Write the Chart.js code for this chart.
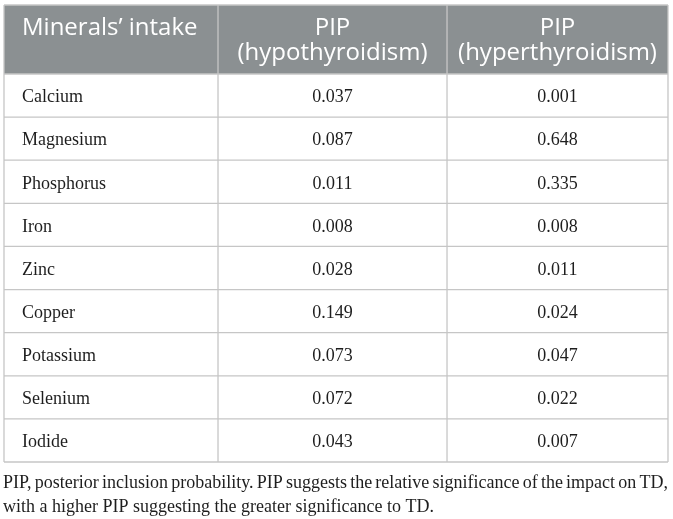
<!DOCTYPE html>
<html>
<head>
<meta charset="utf-8">
<script src="https://cdn.jsdelivr.net/npm/chart.js@4"></script>
<style>html,body{margin:0;padding:0;background:#fff}canvas{display:block}</style>
</head>
<body>
<canvas id="tbl" width="673" height="519"></canvas>
<script>
const minerals = ['Calcium', 'Magnesium', 'Phosphorus', 'Iron', 'Zinc', 'Copper', 'Potassium', 'Selenium', 'Iodide'];
const pipHypo = [0.037, 0.087, 0.011, 0.008, 0.028, 0.149, 0.073, 0.072, 0.043];
const pipHyper = [0.001, 0.648, 0.335, 0.008, 0.011, 0.024, 0.047, 0.022, 0.007];
const headers = [['Minerals\u2019 intake'], ['PIP', '(hypothyroidism)'], ['PIP', '(hyperthyroidism)']];
const note = [
    'PIP, posterior inclusion probability. PIP suggests the relative significance of the impact on TD,',
    'with a higher PIP suggesting the greater significance to TD.'
];

// column edges in x units, the table runs 0..100
const colEdges = [0, 32.23, 66.72, 100];
const headerTop = 5;

const tablePlugin = {
    id: 'table',
    beforeDatasetsDraw(chart) {
        const { ctx, chartArea: a, scales: { x, y } } = chart;
        const band = y.getPixelForValue(1) - y.getPixelForValue(0);
        const xs = colEdges.map(v => x.getPixelForValue(v));

        ctx.save();
        // header
        ctx.fillStyle = '#8b9092';
        ctx.fillRect(a.left, headerTop, a.right - a.left, a.top - headerTop);

        // grid
        ctx.strokeStyle = '#c6c6c6';
        ctx.lineWidth = 1.3;
        ctx.beginPath();
        for (let i = 0; i <= minerals.length; i++) {
            const yy = y.getPixelForValue(i) - band / 2;
            ctx.moveTo(a.left, yy); ctx.lineTo(a.right, yy);
        }
        ctx.moveTo(a.left, headerTop); ctx.lineTo(a.right, headerTop);
        xs.forEach(xx => { ctx.moveTo(xx, headerTop); ctx.lineTo(xx, a.bottom); });
        ctx.stroke();

        // header text
        ctx.fillStyle = '#ffffff';
        ctx.font = '24px "Open Sans"';
        ctx.textBaseline = 'middle';
        headers.forEach((lines, c) => {
            lines.forEach((t, k) => {
                const yy = headerTop + 23 + k * 25;
                if (c === 0) {
                    ctx.textAlign = 'left';
                    ctx.fillText(t, xs[0] + 18, yy);
                } else {
                    ctx.textAlign = 'center';
                    ctx.fillText(t, (xs[c] + xs[c + 1]) / 2, yy);
                }
            });
        });
        ctx.restore();
    },
    afterDatasetsDraw(chart) {
        const { ctx, chartArea: a, scales: { x, y } } = chart;
        const xs = colEdges.map(v => x.getPixelForValue(v));
        ctx.save();
        ctx.fillStyle = '#1e1e1e';
        ctx.font = '18px "Liberation Serif"';
        ctx.textBaseline = 'middle';
        minerals.forEach((m, i) => {
            const yy = y.getPixelForValue(i) + 2;
            ctx.textAlign = 'left';
            ctx.fillText(m, xs[0] + 18, yy);
        });
        chart.data.datasets.forEach((ds, d) => {
            ctx.textAlign = 'center';
            ds.data.forEach((p, i) => {
                const px = x.getPixelForValue(p.x);
                const py = y.getPixelForValue(p.y) + 2;
                ctx.fillText(ds.values[i].toFixed(3), px, py);
            });
        });

        // footnote, first line justified
        ctx.textAlign = 'left';
        ctx.textBaseline = 'alphabetic';
        const left = 3, right = 668;
        note.forEach((line, k) => {
            const yy = a.bottom + 26 + k * 24;
            if (k === note.length - 1) { ctx.fillText(line, left, yy); return; }
            const words = line.split(' ');
            const wsum = words.reduce((s, w) => s + ctx.measureText(w).width, 0);
            const gap = (right - left - wsum) / (words.length - 1);
            let cx = left;
            words.forEach(w => { ctx.fillText(w, cx, yy); cx += ctx.measureText(w).width + gap; });
        });
        ctx.restore();
    }
};

const colCenter = c => (colEdges[c] + colEdges[c + 1]) / 2;

new Chart(document.getElementById('tbl'), {
    type: 'scatter',
    data: {
        labels: minerals,
        datasets: [
            { label: 'PIP (hypothyroidism)', values: pipHypo, data: minerals.map(m => ({ x: colCenter(1), y: m })), pointRadius: 0 },
            { label: 'PIP (hyperthyroidism)', values: pipHyper, data: minerals.map(m => ({ x: colCenter(2), y: m })), pointRadius: 0 }
        ]
    },
    options: {
        responsive: false,
        animation: false,
        events: [],
        layout: { padding: { left: 4, right: 5, top: 74, bottom: 57 } },
        scales: {
            x: { type: 'linear', min: 0, max: 100, display: false },
            y: { type: 'category', labels: minerals, offset: true, display: false }
        },
        plugins: { legend: { display: false }, tooltip: { enabled: false } }
    },
    plugins: [tablePlugin]
});
</script>
</body>
</html>
